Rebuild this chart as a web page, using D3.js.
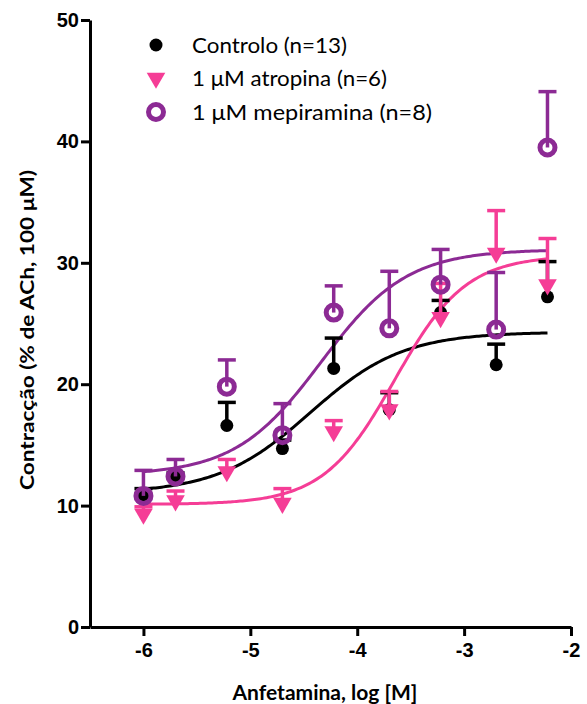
<!DOCTYPE html>
<html><head><meta charset="utf-8">
<script src="https://cdn.jsdelivr.net/npm/d3@7"></script>
<style>body{margin:0;background:#fff}</style>
</head><body><svg id="c" width="587" height="704"></svg>
<script>
// ---- data ----
const logConc = [-6, -5.7, -5.22, -4.7, -4.22, -3.7, -3.22, -2.7, -2.22];
const controlMean = [10.9, 12.2, 16.6, 14.7, 21.3, 17.9, 25.9, 21.6, 27.2];
const controlSem  = [0.5, 0.5, 1.9, 0.7, 2.5, 1.4, 1.0, 1.7, 2.9];
const atropineMean = [9.3, 10.4, 12.8, 10.2, 16.1, 17.9, 25.5, 30.8, 28.2];
const atropineSem  = [0.6, 0.8, 1.0, 1.2, 0.9, 1.5, 2.8, 3.5, 3.8];
const mepyramineMean = [10.8, 12.4, 19.8, 15.8, 25.9, 24.6, 28.2, 24.5, 39.5];
const mepyramineSem  = [2.1, 1.4, 2.2, 2.6, 2.2, 4.7, 2.9, 4.7, 4.6];
// four-parameter logistic fits (control, atropina, mepiramina)
const fitBottom  = [11.0, 10.1, 12.5];
const fitTop     = [24.3, 30.6, 31.1];
const fitLogEC50 = [-4.44, -3.65, -4.34];
const fitHill    = [1.0, 1.3, 1.08];
const seriesLabels = ["Controlo (n=13)", "1 μM atropina (n=6)", "1 μM mepiramina (n=8)"];
const xTicks = [-6, -5, -4, -3, -2];
const yTicks = [0, 10, 20, 30, 40, 50];
const xTitle = "Anfetamina, log [M]";
const yTitle = "Contracção (% de ACh, 100 μM)";

// ---- drawing ----
const colors = ["#000000", "#f53d96", "#8c2a94"];
const svg = d3.select("#c");
const x = d3.scaleLinear().domain([-6.5, -2]).range([90, 571]);
const y = d3.scaleLinear().domain([0, 50]).range([627, 20]);

const series = [controlMean, atropineMean, mepyramineMean].map((m, i) => ({
  mean: m, sem: [controlSem, atropineSem, mepyramineSem][i], i
}));

// fitted curves
const fit = (i, lx) => fitBottom[i] + (fitTop[i] - fitBottom[i]) / (1 + Math.pow(10, (fitLogEC50[i] - lx) * fitHill[i]));
const xmin = logConc[0], xmax = logConc[logConc.length - 1];
const samples = d3.range(0, 201).map(k => xmin + (xmax - xmin) * k / 200);
const line = d3.line().x(d => x(d[0])).y(d => y(d[1]));
[0, 1, 2].forEach(i => {
  svg.append("path").attr("d", line(samples.map(s => [s, fit(i, s)])))
    .attr("fill", "none").attr("stroke", colors[i]).attr("stroke-width", 3);
});

const tri = d3.symbol().type(d3.symbolTriangle).size(150);

series.forEach(s => {
  const g = svg.append("g");
  const c = colors[s.i];
  logConc.forEach((lx, k) => {
    const cx = x(lx), cy = y(s.mean[k]), ty = y(s.mean[k] + s.sem[k]);
    g.append("line").attr("x1", cx).attr("x2", cx).attr("y1", cy).attr("y2", ty)
      .attr("stroke", c).attr("stroke-width", 3.5);
    g.append("line").attr("x1", cx - 9).attr("x2", cx + 9).attr("y1", ty).attr("y2", ty)
      .attr("stroke", c).attr("stroke-width", 3.5);
    if (s.i === 0) {
      g.append("circle").attr("cx", cx).attr("cy", cy).attr("r", 6.5).attr("fill", c);
    } else if (s.i === 1) {
      g.append("path").attr("d", tri).attr("transform", `translate(${cx},${cy}) rotate(180)`).attr("fill", c);
    } else {
      g.append("circle").attr("cx", cx).attr("cy", cy).attr("r", 7.5).attr("fill", "none")
        .attr("stroke", c).attr("stroke-width", 5);
    }
  });
});

// axes
const xAxis = svg.append("g").attr("transform", `translate(0,${y(0)})`)
  .call(d3.axisBottom(x).tickValues(xTicks).tickSize(9).tickSizeOuter(0).tickFormat(d3.format("d")));
const yAxis = svg.append("g").attr("transform", `translate(${x(-6.5)},0)`)
  .call(d3.axisLeft(y).tickValues(yTicks).tickSize(9).tickSizeOuter(0).tickFormat(d3.format("d")));
[xAxis, yAxis].forEach(a => {
  a.select(".domain").attr("stroke", "#000").attr("stroke-width", 3);
  a.selectAll(".tick line").attr("stroke", "#000").attr("stroke-width", 3);
  a.selectAll(".tick text").attr("fill", "#000")
    .style("font-family", "'Liberation Sans', Arial, sans-serif")
    .style("font-weight", "bold").style("font-size", "20px");
});
xAxis.selectAll(".tick text").attr("dy", "0.71em").attr("y", 16).text(d => d < 0 ? "-" + Math.abs(d) : d);
yAxis.selectAll(".tick text").attr("x", -11);

svg.append("text").attr("x", 325).attr("y", 700).attr("text-anchor", "middle")
  .style("font-family", "Lato, 'Open Sans', sans-serif").style("font-weight", "bold").style("font-size", "21px")
  .text(xTitle);
svg.append("text").attr("transform", "translate(34,330) rotate(-90)").attr("text-anchor", "middle")
  .style("font-family", "Lato, 'Open Sans', sans-serif").style("font-weight", "bold").style("font-size", "19px")
  .attr("textLength", 320).attr("lengthAdjust", "spacingAndGlyphs")
  .text(yTitle);

// legend
const legY = [45, 78, 112];
const legW = [155, 195, 240];
seriesLabels.forEach((lab, i) => {
  const ly = legY[i];
  if (i === 0) svg.append("circle").attr("cx", 156).attr("cy", ly).attr("r", 6.5).attr("fill", colors[0]);
  else if (i === 1) svg.append("path").attr("d", tri).attr("transform", `translate(156,${ly}) rotate(180)`).attr("fill", colors[1]);
  else svg.append("circle").attr("cx", 156).attr("cy", ly).attr("r", 7.5).attr("fill", "none").attr("stroke", colors[2]).attr("stroke-width", 5);
  svg.append("text").attr("x", 192).attr("y", ly).attr("dy", "0.35em")
    .style("font-family", "Lato, 'Open Sans', sans-serif").style("font-size", "22px").attr("fill", "#000")
    .attr("textLength", legW[i]).attr("lengthAdjust", "spacingAndGlyphs")
    .text(lab);
});
</script></body></html>
